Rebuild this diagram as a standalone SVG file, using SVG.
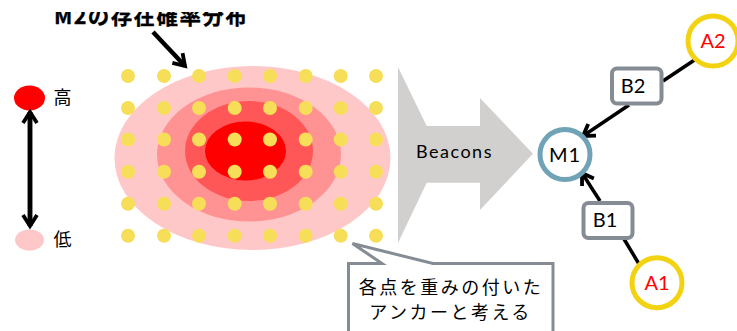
<svg xmlns="http://www.w3.org/2000/svg" width="737" height="331" viewBox="0 0 737 331">
<style>
.dot{fill:#f7de58}
.jp{font-family:"Noto Sans CJK JP","Noto Sans",sans-serif;fill:#000}
.lat{font-family:Lato,"Liberation Sans",sans-serif;font-size:20px;text-anchor:middle}
.ln{stroke:#000;stroke-width:3.500;fill:none}
.thick{stroke-width:4.500}
.box{fill:#fff;stroke:#858c94;stroke-width:4}
.a{fill:#fff;stroke:#f3d311;stroke-width:5}
</style>
<defs>
<marker id="ah" markerUnits="userSpaceOnUse" markerWidth="20" markerHeight="20" refX="14" refY="9" orient="auto"><path d="M3 2L14 9L3 16" fill="none" stroke="#000" stroke-width="3.800"/></marker>
<clipPath id="tc"><rect x="0" y="12" width="300" height="30"/></clipPath>
</defs>
<rect width="737" height="331" fill="#fff"/>
<g id="title" clip-path="url(#tc)"><text class="jp" x="54" y="24" font-size="21.500" font-weight="700" letter-spacing="1.400" stroke="#000" stroke-width=".3">M2の存在確率分布</text></g>
<g id="distribution">
<ellipse cx="252.500" cy="158" rx="138" ry="92" fill="#ffc8c8"/>
<ellipse cx="249" cy="154.500" rx="92" ry="67" fill="#ff9393"/>
<ellipse cx="249" cy="151" rx="64" ry="50" fill="#ff5757"/>
<ellipse cx="245.500" cy="151" rx="40.500" ry="29.500" fill="#f00"/>
</g>
<g id="anchors">
<circle class="dot" cx="128" cy="76" r="7"/><circle class="dot" cx="164" cy="76" r="7"/><circle class="dot" cx="199" cy="76" r="7"/><circle class="dot" cx="234.700" cy="76" r="7"/><circle class="dot" cx="270" cy="76" r="7"/><circle class="dot" cx="305.700" cy="76" r="7"/><circle class="dot" cx="340.700" cy="76" r="7"/><circle class="dot" cx="376" cy="76" r="7"/>
<circle class="dot" cx="128" cy="108" r="7"/><circle class="dot" cx="164" cy="108" r="7"/><circle class="dot" cx="199" cy="108" r="7"/><circle class="dot" cx="234.700" cy="108" r="7"/><circle class="dot" cx="270" cy="108" r="7"/><circle class="dot" cx="305.700" cy="108" r="7"/><circle class="dot" cx="340.700" cy="108" r="7"/><circle class="dot" cx="376" cy="108" r="7"/>
<circle class="dot" cx="128" cy="139.500" r="7"/><circle class="dot" cx="164" cy="139.500" r="7"/><circle class="dot" cx="199" cy="139.500" r="7"/><circle class="dot" cx="234.700" cy="139.500" r="7"/><circle class="dot" cx="270" cy="139.500" r="7"/><circle class="dot" cx="305.700" cy="139.500" r="7"/><circle class="dot" cx="340.700" cy="139.500" r="7"/><circle class="dot" cx="376" cy="139.500" r="7"/>
<circle class="dot" cx="128" cy="171.700" r="7"/><circle class="dot" cx="164" cy="171.700" r="7"/><circle class="dot" cx="199" cy="171.700" r="7"/><circle class="dot" cx="234.700" cy="171.700" r="7"/><circle class="dot" cx="270" cy="171.700" r="7"/><circle class="dot" cx="305.700" cy="171.700" r="7"/><circle class="dot" cx="340.700" cy="171.700" r="7"/><circle class="dot" cx="376" cy="171.700" r="7"/>
<circle class="dot" cx="128" cy="203.700" r="7"/><circle class="dot" cx="164" cy="203.700" r="7"/><circle class="dot" cx="199" cy="203.700" r="7"/><circle class="dot" cx="234.700" cy="203.700" r="7"/><circle class="dot" cx="270" cy="203.700" r="7"/><circle class="dot" cx="305.700" cy="203.700" r="7"/><circle class="dot" cx="340.700" cy="203.700" r="7"/><circle class="dot" cx="376" cy="203.700" r="7"/>
<circle class="dot" cx="128" cy="235.700" r="7"/><circle class="dot" cx="164" cy="235.700" r="7"/><circle class="dot" cx="199" cy="235.700" r="7"/><circle class="dot" cx="234.700" cy="235.700" r="7"/><circle class="dot" cx="270" cy="235.700" r="7"/><circle class="dot" cx="305.700" cy="235.700" r="7"/><circle class="dot" cx="340.700" cy="235.700" r="7"/><circle class="dot" cx="376" cy="235.700" r="7"/>
</g>
<g id="legend">
<ellipse cx="29.500" cy="98" rx="15.500" ry="12.500" fill="#f00"/>
<ellipse cx="29.500" cy="240" rx="14.500" ry="10.500" fill="#ffc8c8"/>
<text class="jp" x="53.500" y="104" font-size="18">高</text>
<text class="jp" x="53.500" y="246" font-size="18">低</text>
</g>
<g id="beacons-arrow">
<polygon points="398,67 426.700,126 480,126 480,98 533,153.700 480,210 480,182.700 426.700,182.700 398,243" fill="#d1d0ce"/>
<text x="416" y="158" font-family="Lato,'Liberation Sans',sans-serif" font-size="18" letter-spacing="1.500">Beacons</text>
</g>
<g id="callout">
<path d="M348.500 331V263.500H382L352.500 243.500L433 263.500H553V331" fill="#fff" stroke="#858c94" stroke-width="3"/>
<text class="jp" x="451" y="294" font-size="18" letter-spacing="2.500" text-anchor="middle">各点を重みの付いた</text>
<text class="jp" x="450.500" y="319" font-size="18" letter-spacing="2.500" text-anchor="middle">アンカーと考える</text>
</g>
<g id="connectors">
<line class="ln thick" x1="153" y1="32" x2="185" y2="66" marker-end="url(#ah)"/>
<line class="ln thick" x1="30" y1="226" x2="30" y2="112" marker-end="url(#ah)"/>
<line class="ln thick" x1="30" y1="112" x2="30" y2="226" marker-end="url(#ah)"/>
<line class="ln" x1="696" y1="59" x2="663" y2="81"/>
<line class="ln" x1="629" y1="105" x2="583" y2="136" marker-end="url(#ah)"/>
<line class="ln" x1="639" y1="264" x2="624" y2="239"/>
<line class="ln" x1="600" y1="201" x2="582" y2="173" marker-end="url(#ah)"/>
</g>
<g id="M1"><circle cx="565" cy="154.500" r="25" fill="#fff" stroke="#6fa3b5" stroke-width="5"/><text class="lat" x="565" y="161.500" letter-spacing="1">M1</text></g>
<g id="A2"><circle class="a" cx="713" cy="41" r="25"/><text class="lat" x="713" y="48" fill="#f00">A2</text></g>
<g id="A1"><circle class="a" cx="657" cy="282.700" r="25"/><text class="lat" x="657" y="289.500" fill="#f00">A1</text></g>
<g id="B2"><rect class="box" x="612" y="68.500" width="49.500" height="35" rx="5"/><text class="lat" x="633" y="92.500">B2</text></g>
<g id="B1"><rect class="box" x="583.500" y="203" width="49" height="35" rx="5"/><text class="lat" x="605" y="227">B1</text></g>
</svg>
